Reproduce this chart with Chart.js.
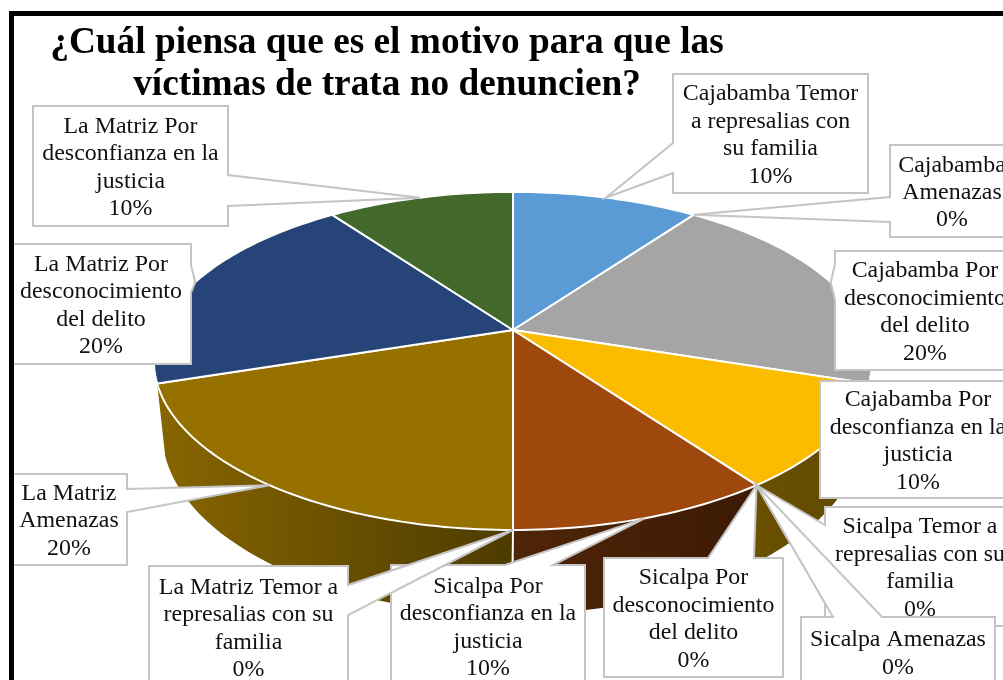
<!DOCTYPE html>
<html><head><meta charset="utf-8">
<style>html,body{margin:0;padding:0;background:#fff;overflow:hidden}canvas{display:block}</style>
<script src="https://cdn.jsdelivr.net/npm/chart.js@4"></script>
</head><body><canvas id="c" width="1003" height="680"></canvas>
<script>
const titleLines = ["¿Cuál piensa que es el motivo para que las", "víctimas de trata no denuncien?"];
const categories = [
  "Cajabamba Temor a represalias con su familia","Cajabamba Amenazas","Cajabamba Por desconocimiento del delito","Cajabamba Por desconfianza en la justicia",
  "Sicalpa Temor a represalias con su familia","Sicalpa Amenazas","Sicalpa Por desconocimiento del delito","Sicalpa Por desconfianza en la justicia",
  "La Matriz Temor a represalias con su familia","La Matriz Amenazas","La Matriz Por desconocimiento del delito","La Matriz Por desconfianza en la justicia"];
const values = [10,0,20,10,0,0,0,10,0,20,20,10];
const labelLines = [
  ["Cajabamba Temor","a represalias con","su familia"],["Cajabamba","Amenazas"],["Cajabamba Por","desconocimiento","del delito"],["Cajabamba Por","desconfianza en la","justicia"],
  ["Sicalpa Temor a","represalias con su","familia"],["Sicalpa Amenazas"],["Sicalpa Por","desconocimiento","del delito"],["Sicalpa Por","desconfianza en la","justicia"],
  ["La Matriz Temor a","represalias con su","familia"],["La Matriz","Amenazas"],["La Matriz Por","desconocimiento","del delito"],["La Matriz Por","desconfianza en la","justicia"]];
const topColors = ["#5B9BD5","#ED7D31","#A5A5A5","#FBBC00","#4472C4","#70AD47","#255E91","#9E480E","#636363","#967100","#264478","#43682B"];
const wallColors = [["#37638a","#37638a"],["#8a4b1d","#8a4b1d"],["#7a7a7a","#7a7a7a"],["#6a5000","#5f4800"],["#294475","#294475"],["#436829","#436829"],["#163857","#163857"],["#4f2508","#3c1a03"],["#3b3b3b","#3b3b3b"],["#876500","#4d3b00"],["#162947","#162947"],["#283f1a","#283f1a"]];
// callout layout: box x,y,w,h; tail side; tail base positions along that side
const calloutLayout = [
  {x:673,y:74,w:195,h:119,side:"left",a:143,b:173},
  {x:890,y:145,w:124,h:92,side:"left",a:197,b:222},
  {x:835,y:251,w:180,h:119,side:"left",a:264,b:300},
  {x:820,y:381,w:196,h:117,side:"none"},
  {x:825,y:507,w:190,h:119,side:"left",a:525,b:603},
  {x:801,y:617,w:194,h:70,side:"top",a:833,b:882},
  {x:604,y:558,w:179,h:119,side:"top",a:708,b:754},
  {x:391,y:565,w:194,h:122,side:"top",a:505,b:553},
  {x:149,y:566,w:199,h:122,side:"right",a:585,b:615},
  {x:11,y:474,w:116,h:91,side:"right",a:489,b:512},
  {x:11,y:244,w:180,h:120,side:"right",a:265,b:293},
  {x:33,y:106,w:195,h:120,side:"right",a:175,b:206}];
const lineStep = 27.4, labelFont = '23.9px "Liberation Serif"', borderColor = "#C4C4C4";
const persp = 0.183;
const topDisc = {cx:513,cy:330,ax:353,by:163.4};
const baseDisc = {cx:512,cy:398.7,ax:344,by:176};
function project(d,a){const u=Math.cos(a),v=-Math.sin(a),w=1+persp*v;return [d.cx+d.ax*u/w,d.cy-d.by*v/w];}
function trace(ctx,d,a0,a1,first){const n=Math.max(2,Math.ceil(Math.abs(a1-a0)/0.02));
  for(let i=0;i<=n;i++){const p=project(d,a0+(a1-a0)*i/n);(first&&i===0)?ctx.moveTo(p[0],p[1]):ctx.lineTo(p[0],p[1]);}}

const pie3d = {id:"pie3d",
  afterLayout(chart){const t=chart.titleBlock;t.left=0;t.right=774;},
  beforeDatasetsDraw(chart){
    const ctx=chart.ctx, arcs=chart.getDatasetMeta(0).data;
    ctx.save();ctx.lineJoin="miter";
    const order=arcs.map((e,i)=>i).filter(i=>values[i]>0);
    // side wall: only slices facing the viewer
    const front=order.filter(i=>Math.sin((arcs[i].startAngle+arcs[i].endAngle)/2)>0);
    front.forEach(i=>{const e=arcs[i];
      ctx.beginPath();trace(ctx,topDisc,e.startAngle,e.endAngle,true);trace(ctx,baseDisc,e.endAngle,e.startAngle,false);ctx.closePath();
      const xa=project(topDisc,e.startAngle)[0],xb=project(topDisc,e.endAngle)[0];
      const g=ctx.createLinearGradient(Math.min(xa,xb),0,Math.max(xa,xb),0);
      g.addColorStop(0,wallColors[i][0]);g.addColorStop(1,wallColors[i][1]);
      ctx.fillStyle=g;ctx.fill();});
    front.forEach(i=>{const e=arcs[i];
      if(Math.sin(e.endAngle)>0.5){const p=project(topDisc,e.endAngle),q=project(baseDisc,e.endAngle);
        ctx.beginPath();ctx.moveTo(p[0],p[1]);ctx.lineTo(q[0],q[1]);ctx.strokeStyle="#fff";ctx.lineWidth=2;ctx.stroke();}});
    // top face
    order.forEach(i=>{const e=arcs[i];
      ctx.beginPath();ctx.moveTo(topDisc.cx,topDisc.cy);trace(ctx,topDisc,e.startAngle,e.endAngle,false);ctx.closePath();
      ctx.fillStyle=topColors[i];ctx.fill();ctx.strokeStyle="#fff";ctx.lineWidth=2;ctx.stroke();});
    // callouts
    arcs.forEach((e,i)=>{const L=calloutLayout[i],tip=project(topDisc,(e.startAngle+e.endAngle)/2);
      const x0=L.x,y0=L.y,x1=L.x+L.w,y1=L.y+L.h;
      ctx.beginPath();ctx.moveTo(x0,y0);
      if(L.side==="top"){ctx.lineTo(L.a,y0);ctx.lineTo(tip[0],tip[1]);ctx.lineTo(L.b,y0);}
      ctx.lineTo(x1,y0);
      if(L.side==="right"){ctx.lineTo(x1,L.a);ctx.lineTo(tip[0],tip[1]);ctx.lineTo(x1,L.b);}
      ctx.lineTo(x1,y1);ctx.lineTo(x0,y1);
      if(L.side==="left"){ctx.lineTo(x0,L.b);ctx.lineTo(tip[0],tip[1]);ctx.lineTo(x0,L.a);}
      ctx.closePath();ctx.fillStyle="#fff";ctx.fill();ctx.strokeStyle=borderColor;ctx.lineWidth=2;ctx.stroke();
      const lines=labelLines[i].concat([values[i]+"%"]);
      ctx.fillStyle="#111";ctx.font=labelFont;ctx.textAlign="center";ctx.textBaseline="alphabetic";
      const cx=(x0+x1)/2,total=lineStep*lines.length,start=(y0+y1)/2-total/2+lineStep*0.79;
      lines.forEach((t,k)=>ctx.fillText(t,cx,start+k*lineStep));
    });
    ctx.restore();
    return false;
  },
  afterDraw(chart){const ctx=chart.ctx;ctx.save();ctx.fillStyle="#000";ctx.fillRect(9,11,994,5);ctx.fillRect(9,11,5,669);ctx.restore();}
};

new Chart(document.getElementById("c"),{type:"pie",
  data:{labels:categories,datasets:[{data:values,backgroundColor:topColors,borderColor:"#fff",borderWidth:2}]},
  options:{responsive:false,animation:false,
    layout:{padding:0},
    plugins:{legend:{display:false},tooltip:{enabled:false},
      title:{display:true,text:titleLines,color:"#000",font:{family:'"Liberation Serif"',size:37.3,weight:"bold",lineHeight:1.126},padding:{top:22,bottom:0}}}},
  plugins:[pie3d]});
</script></body></html>
